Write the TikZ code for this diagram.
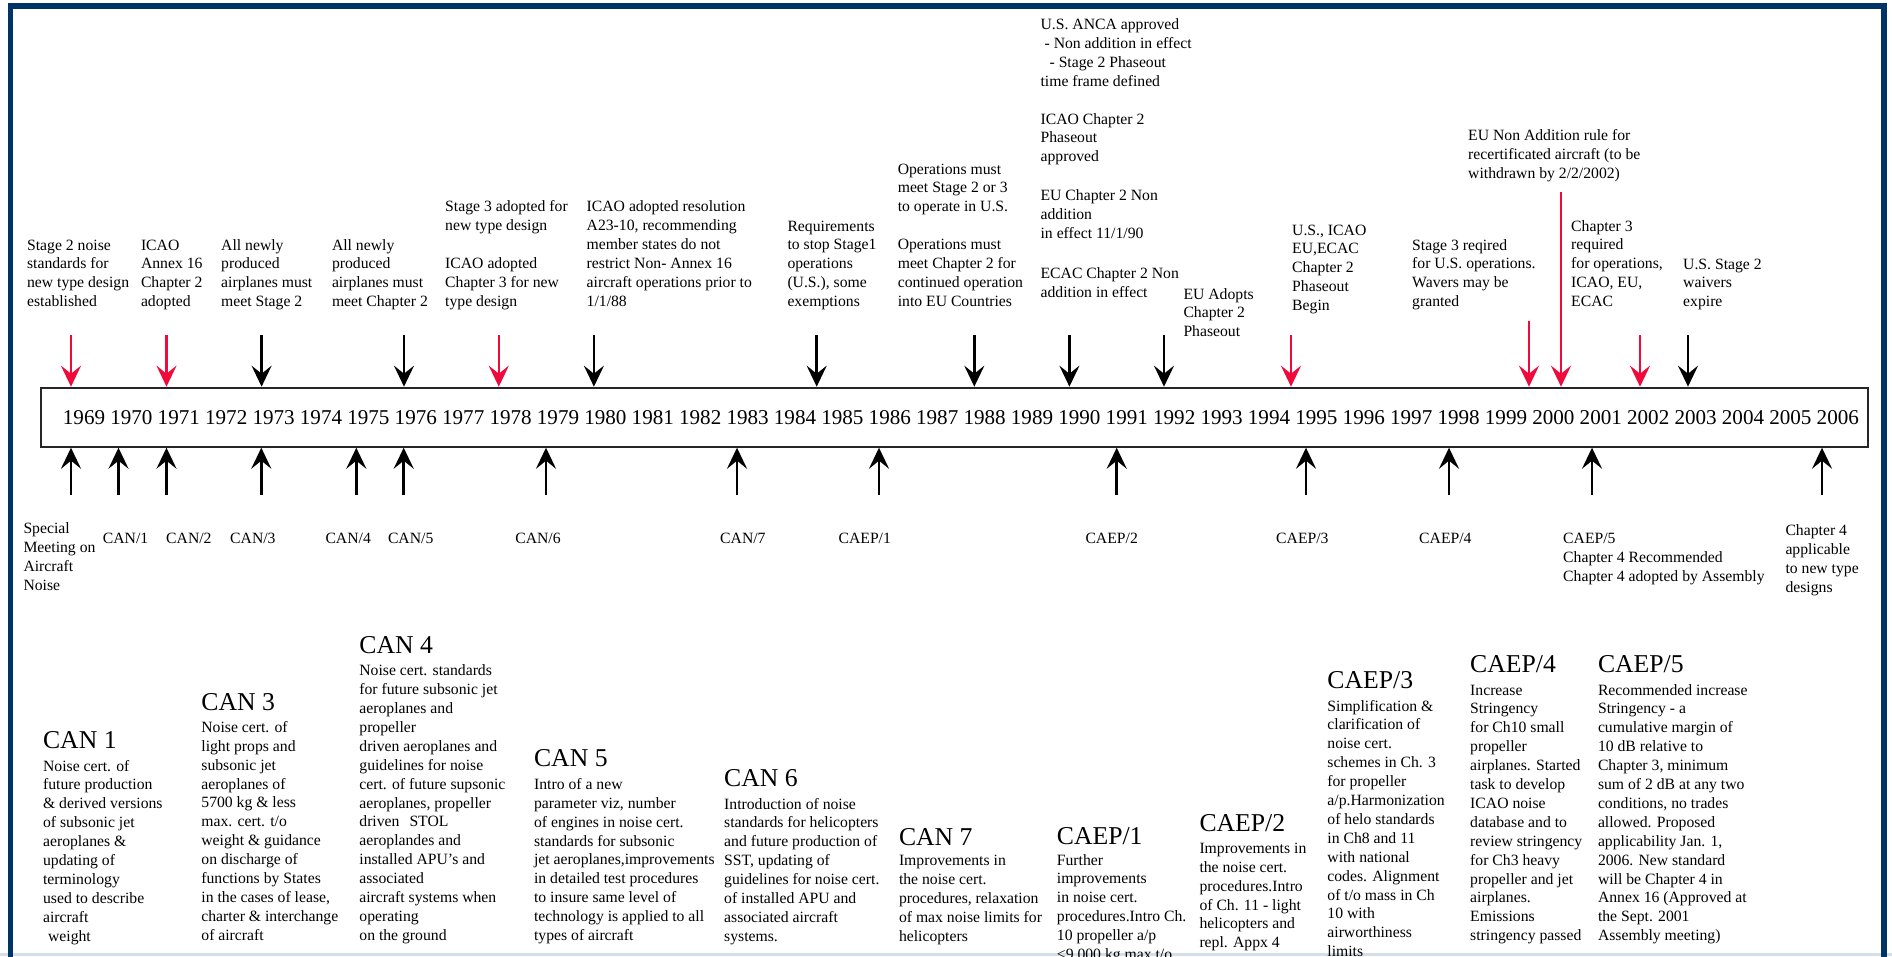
\documentclass[tikz,border=0pt]{standalone}
\usepackage{fontspec}
\setmainfont{Liberation Serif}
\usetikzlibrary{arrows.meta}
\definecolor{navy}{RGB}{0,51,102}
\definecolor{hired}{RGB}{240,10,60}
\definecolor{paleline}{RGB}{214,222,232}
\newcommand{\mlines}[1]{\begin{tabular}[t]{@{}l@{}}#1\end{tabular}}
\tikzset{
  lab/.style={font=\fontsize{15.7}{18.9}\selectfont, inner sep=0pt, anchor=base west},
  ttl/.style={font=\fontsize{25.7}{30}\selectfont, inner sep=0pt, anchor=base west},
  yr/.style={font=\fontsize{21.1}{25}\selectfont, inner sep=0pt, anchor=base west},
  arr/.style={-{Stealth[length=21pt,width=20pt,inset=8pt]}, line width=2.6pt},
  blk/.style={arr, black},
  rd/.style={arr, hired},
}
\begin{document}
\begin{tikzpicture}[x=1pt,y=-1pt]
\useasboundingbox (0,0) rectangle (1892,956);
\clip (0,0) rectangle (1892,956);
\fill[white] (0,0) rectangle (1892,956);

% frame
\draw[paleline, line width=3pt] (0,954.5) -- (1892,954.5);
\draw[navy, line width=5.5pt, line join=miter] (10.5,960) -- (10.5,6) -- (1884,6) -- (1884,960);

% timeline box
\node[draw=black!85, line width=2pt, minimum width=1827pt, minimum height=59pt, inner sep=0pt, anchor=north west] (box) at (40,386.7) {};
\foreach \k in {0,...,37} {
  \pgfmathtruncatemacro{\yy}{1969+\k}
  \node[yr] (y\yy) at ({62.7+47.4*\k},424) {\yy};
}

% top annotations
\node[lab] (t1) at (26.9,250) {\mlines{Stage 2 noise\\standards for\\new type design\\established}};
\node[lab] (t2) at (140.8,250) {\mlines{ICAO\\Annex 16\\Chapter 2\\adopted}};
\node[lab] (t3) at (221,250) {\mlines{All newly\\produced\\airplanes must\\meet Stage 2}};
\node[lab] (t4) at (331.8,250) {\mlines{All newly\\produced\\airplanes must\\meet Chapter 2}};
\node[lab] (t5) at (445,211.7) {\mlines{Stage 3 adopted for\\new type design\\ \\ICAO adopted\\Chapter 3 for new\\type design}};
\node[lab] (t6) at (586.5,211.7) {\mlines{ICAO adopted resolution\\A23-10, recommending\\member states do not\\restrict Non- Annex 16\\aircraft operations prior to\\1/1/88}};
\node[lab] (t7) at (787.3,231) {\mlines{Requirements\\to stop Stage1\\operations\\(U.S.), some\\exemptions}};
\node[lab] (t8) at (897.6,174) {\mlines{Operations must\\meet Stage 2 or 3\\to operate in U.S.\\ \\Operations must\\meet Chapter 2 for\\continued operation\\into EU Countries}};
\node[lab] (t9a) at (1040.4,29.3) {\mlines{U.S. ANCA approved\\\hspace{4pt}- Non addition in effect\\\hspace{9pt}- Stage 2 Phaseout\\time frame defined}};
\node[lab] (t9b) at (1040.4,124) {\mlines{ICAO Chapter 2\\Phaseout\\approved}};
\node[lab] (t9c) at (1040.4,200.7) {\mlines{EU Chapter 2 Non\\addition\\in effect 11/1/90}};
\node[lab] (t9d) at (1040.4,278.3) {\mlines{ECAC Chapter 2 Non\\addition in effect}};
\node[lab] (t10) at (1183.3,299) {\mlines{EU Adopts\\Chapter 2\\Phaseout}};
\node[lab] (t11) at (1292,235) {\mlines{U.S., ICAO\\EU,ECAC\\Chapter 2\\Phaseout\\Begin}};
\node[lab] (t12) at (1412,250) {\mlines{Stage 3 reqired\\for U.S. operations.\\Wavers may be\\granted}};
\node[lab] (t13) at (1468,140.7) {\mlines{EU Non Addition rule for\\recertificated aircraft (to be\\withdrawn by 2/2/2002)}};
\node[lab] (t14) at (1571,231) {\mlines{Chapter 3\\required\\for operations,\\ICAO, EU,\\ECAC}};
\node[lab] (t15) at (1683,269) {\mlines{U.S. Stage 2\\waivers\\expire}};

% down arrows
\foreach \n/\xx/\yy/\st in {d1/71/335/rd, d2/166.5/335/rd, d3/261.6/335/blk, d4/404/335/blk,
  d5/498.8/335/rd, d6/593.9/335/blk, d7/816.7/335/blk, d8/974.3/335/blk, d9/1069.4/335/blk,
  d10/1164/335/blk, d11/1291/335/rd, d12/1529/320.7/rd, d13/1561/192.3/rd, d14/1640/335/rd,
  d15/1688/335/blk} {
  \coordinate (\n) at (\xx,\yy);
  \draw[\st] (\n) -- (\n |- box.north);
}

% up arrows
\foreach \n/\xx in {u1/71, u2/118.5, u3/166.5, u4/261.3, u5/356.3, u6/403.7, u7/546, u8/737,
  u9/879, u10/1116.7, u11/1306, u12/1449, u13/1592, u14/1822} {
  \coordinate (\n) at (\xx,495);
  \draw[blk] (\n) -- (\n |- box.south);
}

% labels below arrows
\node[lab] (b0) at (23.3,533.3) {\mlines{Special\\Meeting on\\Aircraft\\Noise}};
\node[lab] (b1) at (102.7,543.5) {CAN/1};
\node[lab] (b2) at (166,543.5) {CAN/2};
\node[lab] (b3) at (230,543.5) {CAN/3};
\node[lab] (b4) at (325.3,543.5) {CAN/4};
\node[lab] (b5) at (387.8,543.5) {CAN/5};
\node[lab] (b6) at (515.1,543.5) {CAN/6};
\node[lab] (b7) at (720,543.5) {CAN/7};
\node[lab] (b8) at (838.4,543.5) {CAEP/1};
\node[lab] (b9) at (1085.3,543.5) {CAEP/2};
\node[lab] (b10) at (1276,543.5) {CAEP/3};
\node[lab] (b11) at (1419,543.5) {CAEP/4};
\node[lab] (b12) at (1563,543.5) {\mlines{CAEP/5\\Chapter 4 Recommended\\Chapter 4 adopted by Assembly}};
\node[lab] (b13) at (1785.3,535.7) {\mlines{Chapter 4\\applicable\\to new type\\designs}};

% lower descriptions
\node[ttl] (c1t) at (42.9,748.5) {CAN 1};
\node[lab] (c1b) at (42.9,771) {\mlines{Noise cert. of\\future production\\\& derived versions\\of subsonic jet\\aeroplanes \&\\updating of\\terminology\\used to describe\\aircraft\\\hspace{5pt}weight}};

\node[ttl] (c3t) at (201.2,710.2) {CAN 3};
\node[lab] (c3b) at (201.2,732.3) {\mlines{Noise cert. of\\light props and\\subsonic jet\\aeroplanes of\\5700 kg \& less\\max. cert. t/o\\weight \& guidance\\on discharge of\\functions by States\\in the cases of lease,\\charter \& interchange\\of aircraft}};

\node[ttl] (c4t) at (359.2,653.5) {CAN 4};
\node[lab] (c4b) at (359.2,675.7) {\mlines{Noise cert. standards\\for future subsonic jet\\aeroplanes and\\propeller\\driven aeroplanes and\\guidelines for noise\\cert. of future supsonic\\aeroplanes, propeller\\driven\hspace{10pt}STOL\\aeroplandes and\\installed APU's and\\associated\\aircraft systems when\\operating\\on the ground}};

\node[ttl] (c5t) at (533.9,766.8) {CAN 5};
\node[lab] (c5b) at (533.9,789.3) {\mlines{Intro of a new\\parameter viz, number\\of engines in noise cert.\\standards for subsonic\\jet aeroplanes,improvements\\in detailed test procedures\\to insure same level of\\technology is applied to all\\types of aircraft}};

\node[ttl] (c6t) at (724,786.8) {CAN 6};
\node[lab] (c6b) at (724,809) {\mlines{Introduction of noise\\standards for helicopters\\and future production of\\SST, updating of\\guidelines for noise cert.\\of installed APU and\\associated aircraft\\systems.}};

\node[ttl] (c7t) at (898.8,845.2) {CAN 7};
\node[lab] (c7b) at (898.8,865.7) {\mlines{Improvements in\\the noise cert.\\procedures, relaxation\\of max noise limits for\\helicopters}};

\node[ttl] (e1t) at (1056.7,844.5) {CAEP/1};
\node[lab] (e1b) at (1056.7,865) {\mlines{Further\\improvements\\in noise cert.\\procedures.Intro Ch.\\10 propeller a/p\\<9,000 kg max t/o}};

\node[ttl] (e2t) at (1199.3,831.2) {CAEP/2};
\node[lab] (e2b) at (1199.3,853.3) {\mlines{Improvements in\\the noise cert.\\procedures.Intro\\of Ch. 11 - light\\helicopters and\\repl. Appx 4}};

\node[ttl] (e3t) at (1327.2,688.5) {CAEP/3};
\node[lab] (e3b) at (1327.2,711) {\mlines{Simplification \&\\clarification of\\noise cert.\\schemes in Ch. 3\\for propeller\\a/p.Harmonization\\of helo standards\\in Ch8 and 11\\with national\\codes. Alignment\\of t/o mass in Ch\\10 with\\airworthiness\\limits}};

\node[ttl] (e4t) at (1470,672.8) {CAEP/4};
\node[lab] (e4b) at (1470,695) {\mlines{Increase\\Stringency\\for Ch10 small\\propeller\\airplanes. Started\\task to develop\\ICAO noise\\database and to\\review stringency\\for Ch3 heavy\\propeller and jet\\airplanes.\\Emissions\\stringency passed}};

\node[ttl] (e5t) at (1597.8,672.8) {CAEP/5};
\node[lab] (e5b) at (1597.8,695) {\mlines{Recommended increase\\Stringency - a\\cumulative margin of\\10 dB relative to\\Chapter 3, minimum\\sum of 2 dB at any two\\conditions, no trades\\allowed. Proposed\\applicability Jan. 1,\\2006. New standard\\will be Chapter 4 in\\Annex 16 (Approved at\\the Sept. 2001\\Assembly meeting)}};
\end{tikzpicture}
\end{document}
